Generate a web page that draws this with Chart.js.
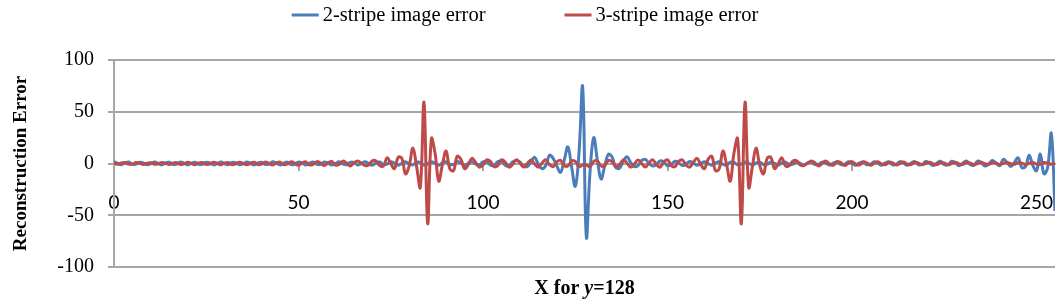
<!DOCTYPE html>
<html>
<head>
<meta charset="utf-8">
<script src="https://cdn.jsdelivr.net/npm/chart.js@4.4.1/dist/chart.umd.min.js"></script>
<style>
  html, body { margin: 0; padding: 0; background: #fff; }
  #wrap { position: relative; width: 1060px; height: 304px; }
</style>
</head>
<body>
<div id="wrap"><canvas id="errChart" width="1060" height="304"></canvas></div>
<script>
// pixel positions along the row, 0..255
const xValues = Array.from({ length: 256 }, (_, i) => i);

const twoStripeErr = [
  1.8, 0.2, -1.2, 0.5, 1.4, -0.9, -0.6, 1.3, 0.3, -1.1,
  -0.2, 1.4, 0.1, -1.3, 0.6, 1.2, -1.0, -0.5, 1.5, 0.2,
  -1.4, 0.3, 1.3, -0.8, -0.8, 1.2, 0.4, -1.3, 0.0, 1.4,
  -0.4, -1.1, 1.0, 0.9, -1.2, -0.3, 1.5, 0.0, -1.3, 0.6,
  1.2, -1.0, -0.5, 1.6, 0.2, -1.4, 0.4, 1.3, -0.9, -0.7,
  1.5, 0.3, -1.5, 0.2, 1.5, -0.8, -0.9, 1.4, 0.5, -1.4,
  0.1, 1.6, -0.5, -1.2, 1.1, 1.0, -1.4, -0.2, 1.7, 0.1,
  -1.6, 0.6, 1.4, -1.1, -0.6, 1.7, 0.3, -1.6, 0.2, 1.6,
  -0.6, -1.3, 1.2, 1.1, -1.5, -0.3, 1.8, 0.2, -1.7, 0.5,
  1.6, -1.0, -0.8, 1.8, 0.4, -1.7, 0.1, 1.8, -0.5, -1.5,
  1.5, 1.8, -1.5, -1.8, 1.8, 2.2, -1.6, -2.6, 1.4, 3.0,
  1.5, -2.5, -3.0, 2.0, 6.0, -1.0, -5.0, -2.0, 8.0, 5.0,
  -2.5, -8.5, 3.0, 16.0, -3.0, -22.0, 10.0, 74.0, -71.0, -8.0,
  25.0, 3.0, -15.0, -2.0, 9.0, 6.0, -4.0, -4.5, 2.0, 6.5,
  1.0, -3.0, -2.0, 3.0, 4.0, 0.0, -2.5, -1.0, 2.5, 1.5,
  -2.2, -1.0, 2.2, 0.8, -2.0, -0.5, 2.0, 0.4, -1.8, 0.0,
  1.8, -0.2, -1.6, 0.4, 1.6, -0.8, -1.4, 1.2, 1.0, -1.3,
  -0.4, 1.5, 0.2, -1.4, 0.5, 1.3, -1.0, -0.7, 1.4, 0.1,
  -1.4, 0.5, 1.3, -1.0, -0.6, 1.5, 0.1, -1.4, 0.6, 1.3,
  -1.1, -0.6, 1.5, 0.2, -1.5, 0.6, 1.4, -1.1, -0.7, 1.6,
  0.2, -1.6, 0.6, 1.5, -1.2, -0.7, 1.7, 0.3, -1.7, 0.5,
  1.6, -1.3, -0.7, 1.8, 0.3, -1.8, 0.5, 1.8, -1.3, -0.9,
  2.0, 0.4, -2.0, 0.4, 2.1, -1.2, -1.2, 2.2, 0.6, -2.2,
  0.2, 2.4, -1.0, -1.8, 2.3, 1.0, -2.5, -0.5, 2.8, 0.5,
  -2.0, 4.0, 1.0, -3.0, 1.0, 5.5, -4.0, -3.0, 8.0, -2.0,
  -7.0, 9.0, -10.0, -4.0, 29.0, -46.0
];

const threeStripeErr = [
  0.5, -0.8, 0.6, 0.9, -0.7, -0.4, 1.0, 0.2, -0.9, 0.3,
  0.8, -0.8, -0.3, 1.0, 0.1, -1.0, 0.4, 0.8, -0.9, -0.2,
  1.1, 0.0, -1.1, 0.5, 0.9, -1.0, -0.4, 1.2, 0.1, -1.2,
  0.5, 1.0, -1.1, -0.4, 1.3, 0.2, -1.3, 0.4, 1.2, -1.0,
  -0.6, 1.4, 0.1, -1.4, 0.6, 1.3, -1.2, -0.5, 1.6, 0.2,
  -1.6, 0.6, 1.5, -1.4, -0.7, 1.8, 0.3, -1.9, 0.6, 1.9,
  -1.5, -0.9, 2.3, 0.4, -2.3, 0.6, 2.4, 0.5, -2.0, -1.5,
  2.5, 2.5, -2.0, -2.5, 5.5, 0.0, -5.0, 6.0, 5.0, -10.0,
  -2.0, 15.0, -3.0, -23.0, 59.0, -58.0, 24.0, 10.0, -17.0, -1.0,
  12.0, -5.0, -7.0, 7.0, 4.0, -5.0, -1.0, 5.0, 1.0, -3.5,
  -1.5, 3.5, 2.0, -3.0, -2.0, 3.5, 1.5, -3.5, -1.0, 3.5,
  0.5, -3.5, 0.0, 3.5, -0.5, -3.5, 0.5, 3.5, -1.0, -3.0,
  1.5, 3.0, -2.0, -2.5, 2.5, 2.0, -3.0, -1.5,
  -1.5, -3.0, 2.0, 2.5, -2.5, -2.0, 3.0, 1.5,
  -3.0, -1.0, 3.5, 0.5, -3.5, -0.5, 3.5, 0.0, -3.5, 0.5,
  3.5, -1.0, -3.5, 1.5, 3.5, -2.0, -3.0, 2.0, 3.5, -1.5,
  -3.5, 1.0, 5.0, -1.0, -5.0, 4.0, 7.0, -7.0, -5.0, 12.0,
  -1.0, -17.0, 10.0, 24.0, -58.0, 59.0, -23.0, -3.0, 15.0, -2.0,
  -10.0, 5.0, 6.0, -5.0, 0.0, 5.5, -2.5, -2.0, 2.5, 2.5,
  -1.5, -2.0, 0.5, 2.4, 0.6, -2.3, 0.4, 2.3, -0.9, -1.5,
  1.9, 0.6, -1.9, 0.3, 1.8, -0.7, -1.4, 1.5, 0.6, -1.6,
  0.2, 1.6, -0.5, -1.2, 1.3, 0.6, -1.4, 0.1, 1.4, -0.6,
  -1.0, 1.2, 0.4, -1.3, 0.2, 1.3, -0.4, -1.1, 1.0, 0.5,
  -1.2, 0.1, 1.2, -0.4, -1.0, 0.9, 0.5, -1.1, 0.0, 1.1,
  -0.2, -0.9, 0.8, 0.4, -1.0, 0.1, 1.0, -0.3, -0.8, 0.8,
  0.3, -0.9, 0.2, 1.0, -0.4, -0.7, 0.9, 0.6, -0.8, 0.5
];

const seriesNames = ["2-stripe image error", "3-stripe image error"];
const xTicks = [0, 50, 100, 150, 200, 250];
const yTicks = [-100, -50, 0, 50, 100];

const GRID = '#a6a6a6';
const SERIF = '"Liberation Serif", "Times New Roman", serif';

// legend on top + x title with italic y, drawn by hand
const extrasPlugin = {
  id: 'extras',
  afterDraw(chart) {
    const { ctx, chartArea } = chart;
    ctx.save();

    ctx.font = `20.5px ${SERIF}`;
    const lineLen = 27, gap = 4, itemGap = 79;
    const widths = chart.data.datasets.map(ds => ctx.measureText(ds.label).width);
    const total = widths.reduce((a, w) => a + lineLen + gap + w, 0) + itemGap * (widths.length - 1);
    let x = chart.width / 2 - 5 - total / 2;
    const y = 15;
    chart.data.datasets.forEach((ds, i) => {
      ctx.strokeStyle = ds.borderColor;
      ctx.lineWidth = 3;
      ctx.beginPath();
      ctx.moveTo(x, y);
      ctx.lineTo(x + lineLen, y);
      ctx.stroke();
      ctx.fillStyle = '#000';
      ctx.textAlign = 'left';
      ctx.textBaseline = 'middle';
      ctx.fillText(ds.label, x + lineLen + gap, y + 1);
      x += lineLen + gap + widths[i] + itemGap;
    });

    const parts = [
      { t: 'X for ', f: `bold 20px ${SERIF}` },
      { t: 'y', f: `italic bold 20px ${SERIF}` },
      { t: '=128', f: `bold 20px ${SERIF}` }
    ];
    const pw = parts.map(p => { ctx.font = p.f; return ctx.measureText(p.t).width; });
    let tx = (chartArea.left + chartArea.right) / 2 - pw.reduce((a, b) => a + b, 0) / 2;
    parts.forEach((p, i) => {
      ctx.font = p.f;
      ctx.fillText(p.t, tx, 289);
      tx += pw[i];
    });

    ctx.restore();
  }
};

const ctx = document.getElementById('errChart').getContext('2d');

new Chart(ctx, {
  type: 'line',
  data: {
    datasets: [
      {
        label: seriesNames[0],
        data: xValues.map((x, i) => ({ x: x, y: twoStripeErr[i] })),
        borderColor: '#4a7ebb',
        borderWidth: 3,
        pointRadius: 0,
        tension: 0.4,
        fill: false,
        order: 1
      },
      {
        label: seriesNames[1],
        data: xValues.map((x, i) => ({ x: x, y: threeStripeErr[i] })),
        borderColor: '#be4b48',
        borderWidth: 3,
        pointRadius: 0,
        tension: 0.4,
        fill: false,
        order: 0
      }
    ]
  },
  options: {
    responsive: false,
    animation: false,
    layout: { padding: { left: 0, right: 5, top: 60, bottom: 37 } },
    plugins: {
      legend: { display: false },
      tooltip: { enabled: false }
    },
    scales: {
      x: {
        type: 'linear',
        min: 0,
        max: 255,
        position: { y: 0 },
        afterBuildTicks: s => { s.ticks = xTicks.map(v => ({ value: v })); },
        afterFit: s => { s.paddingLeft = 0; s.paddingRight = 0; },
        grid: { drawOnChartArea: false, drawTicks: true, tickLength: 6, color: GRID, lineWidth: 2 },
        border: { display: true, color: GRID, width: 2 },
        ticks: { color: '#000', font: { family: 'Lato', size: 19 }, padding: 22, maxRotation: 0, autoSkip: false }
      },
      y: {
        min: -100,
        max: 100,
        afterBuildTicks: s => { s.ticks = yTicks.map(v => ({ value: v })); },
        afterFit: s => { s.width = 114; },
        grid: { color: GRID, lineWidth: 2, tickLength: 6 },
        border: { display: true, color: GRID, width: 2 },
        ticks: { color: '#000', font: { family: 'Liberation Serif', size: 20 }, padding: 14 },
        title: {
          display: true,
          text: 'Reconstruction Error',
          color: '#000',
          font: { family: 'Liberation Serif', size: 19, weight: 'bold' },
          padding: { top: 10, bottom: 0 }
        }
      }
    }
  },
  plugins: [extrasPlugin]
});
</script>
</body>
</html>
